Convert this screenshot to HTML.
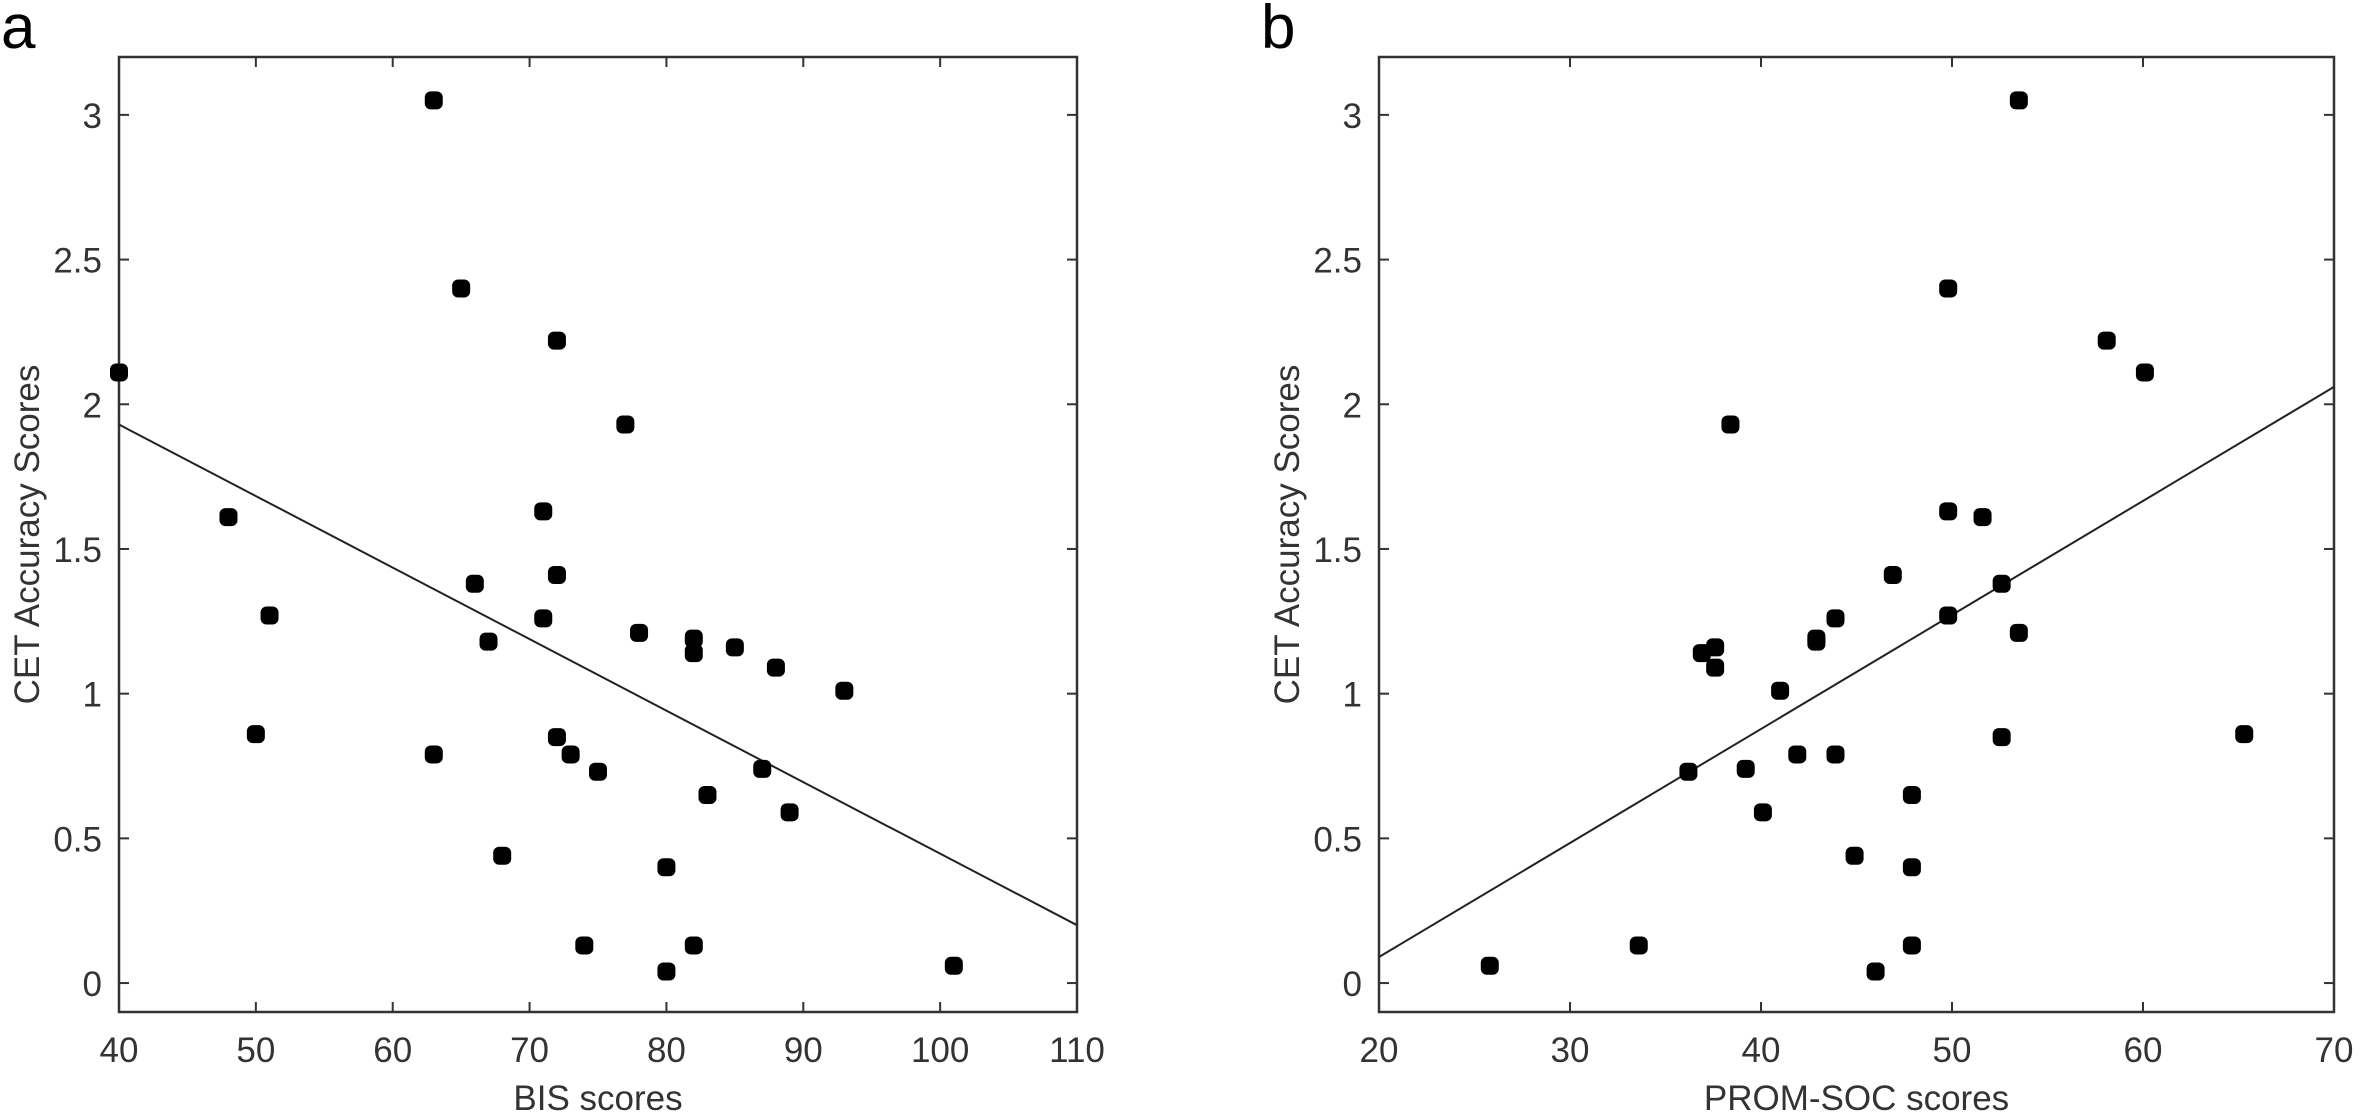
<!DOCTYPE html>
<html><head><meta charset="utf-8"><style>
html,body{margin:0;padding:0;background:#fff;}
svg{display:block;font-family:"Liberation Sans",Arial,sans-serif;}
</style></head><body>
<svg id="chart" width="2360" height="1120" viewBox="0 0 2360 1120" xmlns="http://www.w3.org/2000/svg"></svg>
<script>
const bisX=[40,48,50,51,63,63,65,66,67,68,71,71,72,72,72,73,74,75,77,78,80,80,82,82,82,83,85,87,88,89,93,101];
const bisY=[2.11,1.61,0.86,1.27,3.05,0.79,2.40,1.38,1.18,0.44,1.63,1.26,2.22,1.41,0.85,0.79,0.13,0.73,1.93,1.21,0.40,0.04,1.19,1.14,0.13,0.65,1.16,0.74,1.09,0.59,1.01,0.06];
const bisFitX=[40,110];
const bisFitY=[1.93,0.20];
const promX=[25.8,33.6,36.2,36.9,37.6,37.6,38.4,39.2,40.1,41,41.9,42.9,42.9,43.9,43.9,44.9,46,46.9,47.9,47.9,47.9,49.8,49.8,49.8,51.6,52.6,52.6,53.5,53.5,58.1,60.1,65.3];
const promY=[0.06,0.13,0.73,1.14,1.16,1.09,1.93,0.74,0.59,1.01,0.79,1.18,1.19,1.26,0.79,0.44,0.04,1.41,0.65,0.40,0.13,2.40,1.63,1.27,1.61,1.38,0.85,3.05,1.21,2.22,2.11,0.86];
const promFitX=[20,70];
const promFitY=[0.09,2.06];
const bisTicks=[40,50,60,70,80,90,100,110];
const promTicks=[20,30,40,50,60,70];
const yTicks=[0,0.5,1,1.5,2,2.5,3];
const yTickLabels=["0","0.5","1","1.5","2","2.5","3"];

const NS="http://www.w3.org/2000/svg";
const svg=document.getElementById('chart');
function mk(tag,attrs,parent){const e=document.createElementNS(NS,tag);for(const k in attrs)e.setAttribute(k,attrs[k]);(parent||svg).appendChild(e);return e;}

function panel(key,L,R,xmin,xmax,xs,ys,fx,fy,xt,xlabel,letter){
  const T=57,B=1012,ymin=-0.1,ymax=3.2;
  const sx=v=>L+(v-xmin)/(xmax-xmin)*(R-L);
  const sy=v=>B-(v-ymin)/(ymax-ymin)*(B-T);
  const g=mk('g',{});
  
  
  const lt=mk('text',{x:L-118,y:48,'font-size':62,fill:'#000'},g);lt.textContent=letter;
  
  
  const box=mk('rect',{x:L,y:T,width:R-L,height:B-T,fill:'none',stroke:'#333','stroke-width':2.5},g);
  
  
  xt.forEach(v=>{const x=sx(v);
    mk('line',{x1:x,y1:B,x2:x,y2:B-10,stroke:'#333','stroke-width':2},g);
    mk('line',{x1:x,y1:T,x2:x,y2:T+10,stroke:'#333','stroke-width':2},g);
    const t=mk('text',{x:x,y:1062,'font-size':35,'text-anchor':'middle',fill:'#333'},g);t.textContent=v;
    
    
  });
  yTicks.forEach((v,i)=>{const y=sy(v);
    mk('line',{x1:L,y1:y,x2:L+10,y2:y,stroke:'#333','stroke-width':2},g);
    mk('line',{x1:R,y1:y,x2:R-10,y2:y,stroke:'#333','stroke-width':2},g);
    const t=mk('text',{x:L-17,y:y+13,'font-size':35,'text-anchor':'end',fill:'#333'},g);t.textContent=yTickLabels[i];
    
    
  });
  const xl=mk('text',{x:(L+R)/2,y:1110,'font-size':35,'text-anchor':'middle',fill:'#333'},g);xl.textContent=xlabel;
  
  
  const yl=mk('text',{x:0,y:0,'font-size':35,'text-anchor':'middle',fill:'#333',transform:`translate(${L-80},${(T+B)/2}) rotate(-90)`},g);yl.textContent='CET Accuracy Scores';
  
  
  const fit=mk('line',{x1:sx(fx[0]),y1:sy(fy[0]),x2:sx(fx[1]),y2:sy(fy[1]),stroke:'#222','stroke-width':2},g);
  
  
  xs.forEach((v,i)=>{
    const c=mk('rect',{x:sx(v)-9,y:sy(ys[i])-9,width:18,height:18,rx:6,fill:'#000'},g);
    
    
  });
}
panel('bis',119,1077,40,110,bisX,bisY,bisFitX,bisFitY,bisTicks,'BIS scores','a');
panel('prom',1379,2334,20,70,promX,promY,promFitX,promFitY,promTicks,'PROM-SOC scores','b');
</script>
</body></html>
